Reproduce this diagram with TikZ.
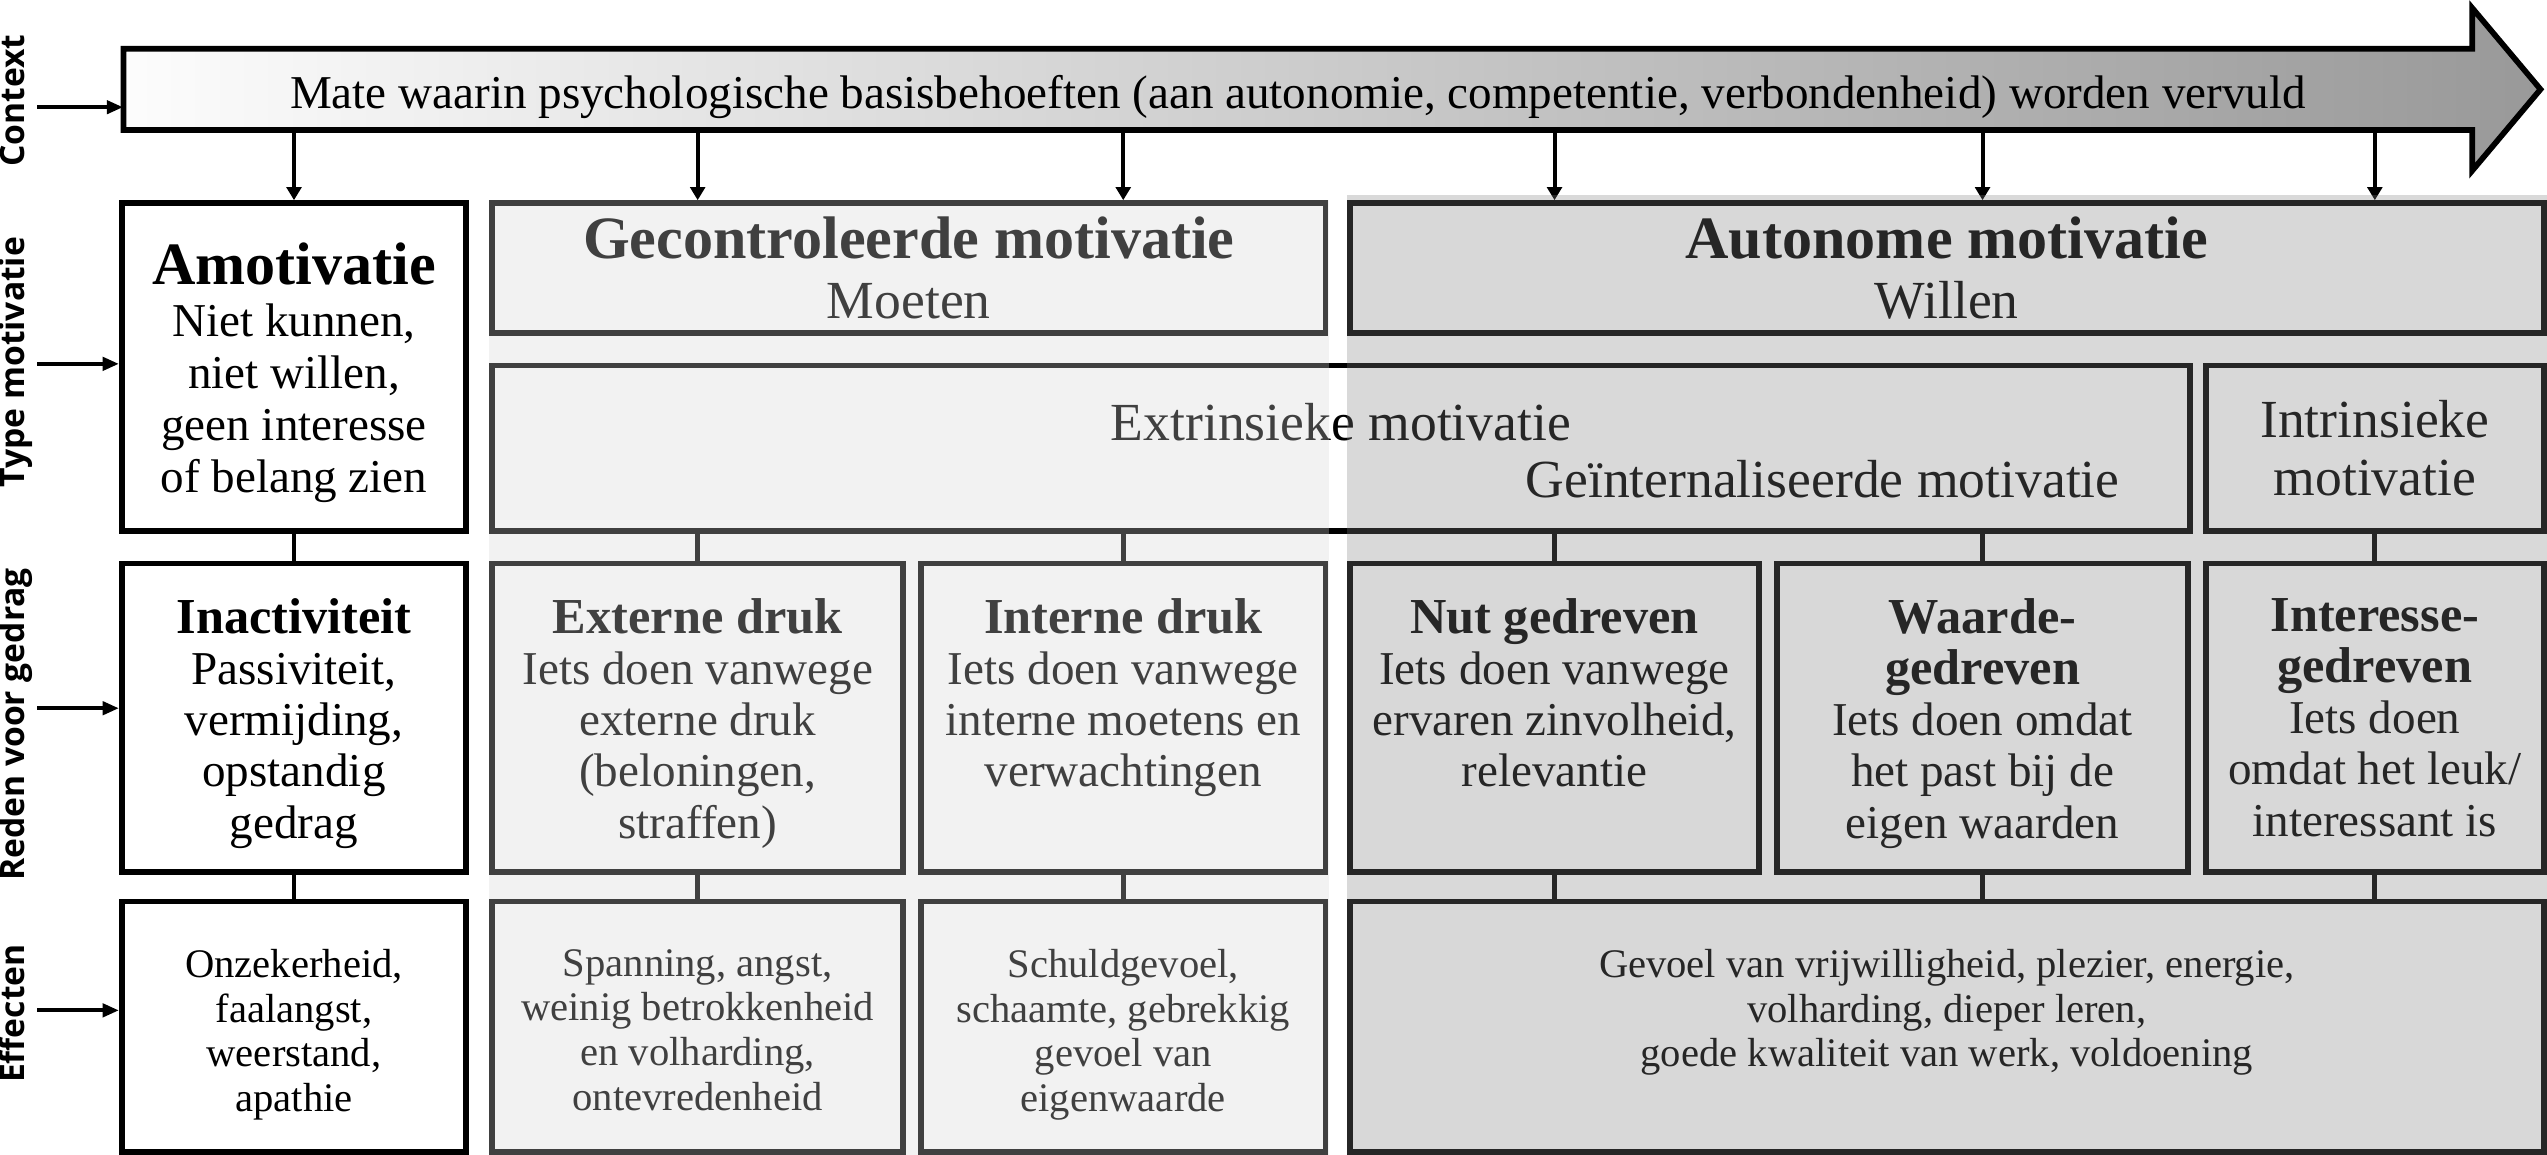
\documentclass[tikz,border=0pt]{standalone}
\usepackage{fontspec}
\setmainfont{Liberation Serif}
\newfontfamily\lblfont{Open Sans}
\usetikzlibrary{positioning,arrows.meta}

\newcommand{\celltitle}[1]{{\bfseries\fontsize{31}{31.5}\selectfont #1}}

\tikzset{
  cell/.style={draw, line width=3.5pt, fill=white, inner sep=0pt},
  celltxt/.style={align=center, inner sep=0pt, font=\fontsize{29}{31.5}\selectfont},
  efftxt/.style={align=center, inner sep=0pt, font=\fontsize{25}{27.5}\selectfont},
  sidelbl/.style={rotate=90, anchor=south, inner sep=0pt, text depth=0pt,
    font=\lblfont\bfseries\fontsize{20.7}{21}\selectfont},
  sidearr/.style={line width=2.6pt, -{Triangle[length=10pt,width=8pt]}},
  downarr/.style={line width=2.5pt, -{Triangle[length=8pt,width=9pt]}},
  link/.style={line width=3pt},
}

\begin{document}
\begin{tikzpicture}[x=1pt, y=-1pt]
\useasboundingbox (0,0) rectangle (1568,711);

% context arrow
\draw[line width=3.5pt, left color=black!1, right color=black!40]
  (76,30) -- (1522,30) -- (1522,5) -- (1564,55) -- (1522,105) -- (1522,80) -- (76,80) -- cycle;
\node[inner sep=0pt, minimum width=1446pt, minimum height=40pt, font=\fontsize{29}{30}\selectfont]
  (ctx) at (799,60) {Mate waarin psychologische basisbehoeften (aan autonomie, competentie, verbondenheid) worden vervuld};

% type motivatie
\node[cell, minimum width=212pt, minimum height=202pt] (amo) at (181,226) {};
\node[align=center, inner sep=0pt, font=\fontsize{29}{32}\selectfont, below=26pt of amo.north]
  (amotxt) {{\bfseries\fontsize{37}{37}\selectfont Amotivatie}\\Niet kunnen,\\niet willen,\\geen interesse\\of belang zien};
\node[cell, minimum width=513pt, minimum height=80pt, align=center, font=\fontsize{33}{37}\selectfont]
  (gec) at (559.5,165) {{\bfseries\fontsize{37}{37}\selectfont Gecontroleerde motivatie}\\Moeten};
\node[cell, minimum width=735pt, minimum height=80pt, align=center, font=\fontsize{33}{37}\selectfont]
  (aut) at (1198.5,165) {{\bfseries\fontsize{37}{37}\selectfont Autonome motivatie}\\Willen};
\node[cell, minimum width=1045pt, minimum height=102pt, fill=none] (extr) at (825.5,276) {};
\node[anchor=base, inner sep=0pt, font=\fontsize{33}{36}\selectfont] (extrlbl) at (825.5,271) {Extrinsieke motivatie};
\node[anchor=base, inner sep=0pt, font=\fontsize{33}{36}\selectfont] (gintlbl) at (1122,306) {Geïnternaliseerde motivatie};
\node[cell, minimum width=208pt, minimum height=102pt, align=center, font=\fontsize{33}{36}\selectfont]
  (intr) at (1462,276) {Intrinsieke\\motivatie};

% reden voor gedrag
\node[cell, minimum width=212pt, minimum height=190pt] (inact) at (181,442) {};
\node[cell, minimum width=253pt, minimum height=190pt] (extd) at (429.5,442) {};
\node[cell, minimum width=249pt, minimum height=190pt] (intd) at (691.5,442) {};
\node[cell, minimum width=252pt, minimum height=190pt] (nut) at (957,442) {};
\node[cell, minimum width=253pt, minimum height=190pt] (waar) at (1220.5,442) {};
\node[cell, minimum width=208pt, minimum height=190pt] (inter) at (1462,442) {};

\node[celltxt, below=23pt of inact.north] (inacttxt) {\celltitle{Inactiviteit}\\Passiviteit,\\vermijding,\\opstandig\\gedrag};
\node[celltxt, below=23pt of extd.north] (extdtxt) {\celltitle{Externe druk}\\Iets doen vanwege\\externe druk\\(beloningen,\\straffen)};
\node[celltxt, below=23pt of intd.north] (intdtxt) {\celltitle{Interne druk}\\Iets doen vanwege\\interne moetens en\\verwachtingen};
\node[celltxt, below=23pt of nut.north] (nuttxt) {\celltitle{Nut gedreven}\\Iets doen vanwege\\ervaren zinvolheid,\\relevantie};
\node[celltxt, below=23pt of waar.north] (waartxt) {\celltitle{Waarde-}\\\celltitle{gedreven}\\Iets doen omdat\\het past bij de\\eigen waarden};
\node[celltxt, below=23pt of inter.north] (intertxt) {\celltitle{Interesse-}\\\celltitle{gedreven}\\Iets doen\\omdat het leuk/\\interessant is};

% effecten
\node[cell, minimum width=212pt, minimum height=154pt] (onz) at (181,632) {};
\node[cell, minimum width=253pt, minimum height=154pt] (span) at (429.5,632) {};
\node[cell, minimum width=249pt, minimum height=154pt] (schuld) at (691.5,632) {};
\node[cell, minimum width=735pt, minimum height=154pt] (gev) at (1198.5,632) {};

\node[efftxt, below=31pt of onz.north] (onztxt) {Onzekerheid,\\faalangst,\\weerstand,\\apathie};
\node[efftxt, below=31pt of span.north] (spantxt) {Spanning, angst,\\weinig betrokkenheid\\en volharding,\\ontevredenheid};
\node[efftxt, below=31pt of schuld.north] (schuldtxt) {Schuldgevoel,\\schaamte, gebrekkig\\gevoel van\\eigenwaarde};
\node[efftxt, below=31pt of gev.north] (gevtxt) {Gevoel van vrijwilligheid, plezier, energie,\\volharding, dieper leren,\\goede kwaliteit van werk, voldoening};

% side labels
\node[sidelbl] (lctx) at (15.5,62) {Context};
\node[sidelbl] (ltype) at (15.5,223) {Type motivatie};
\node[sidelbl] (lreden) at (15.5,446) {Reden voor gedrag};
\node[sidelbl] (leff) at (15.5,624) {Effecten};

\coordinate (actx) at (23,66);
\coordinate (atype) at (23,224);
\coordinate (areden) at (23,436);
\coordinate (aeff) at (23,622);
\draw[sidearr] (actx) -- (actx -| ctx.west);
\draw[sidearr] (atype) -- (atype -| amo.west);
\draw[sidearr] (areden) -- (areden -| inact.west);
\draw[sidearr] (aeff) -- (aeff -| onz.west);

% context to type
\draw[downarr] (ctx.south -| amo.north) -- (amo.north);
\draw[downarr] (ctx.south -| extd.north) -- (extd.north |- gec.north);
\draw[downarr] (ctx.south -| intd.north) -- (intd.north |- gec.north);
\draw[downarr] (ctx.south -| nut.north) -- (nut.north |- aut.north);
\draw[downarr] (ctx.south -| waar.north) -- (waar.north |- aut.north);
\draw[downarr] (ctx.south -| inter.north) -- (inter.north |- aut.north);

% type to reden to effecten
\draw[link] (amo) -- (inact);
\draw[link] (extd.north |- extr.south) -- (extd.north);
\draw[link] (intd.north |- extr.south) -- (intd.north);
\draw[link] (nut.north |- extr.south) -- (nut.north);
\draw[link] (waar.north |- extr.south) -- (waar.north);
\draw[link] (intr) -- (inter);
\draw[link] (inact) -- (onz);
\draw[link] (extd) -- (span);
\draw[link] (intd) -- (schuld);
\draw[link] (nut.south) -- (nut.south |- gev.north);
\draw[link] (waar.south) -- (waar.south |- gev.north);
\draw[link] (inter.south) -- (inter.south |- gev.north);

% column shades
\fill[black!17, opacity=0.3] (301,123) rectangle (818,711);
\fill[black!50, opacity=0.3] (829,120) rectangle (1568,711);
\end{tikzpicture}
\end{document}
